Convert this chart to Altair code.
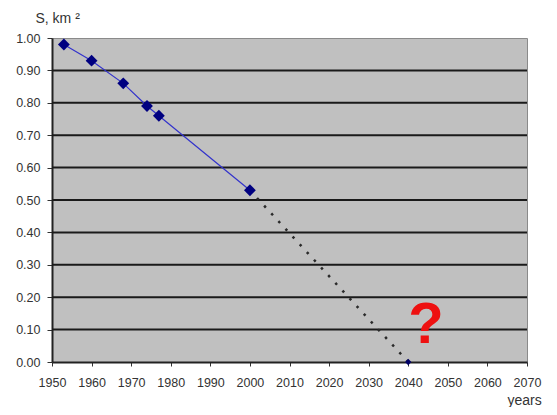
import altair as alt
import pandas as pd

years_obs = [1953, 1960, 1968, 1974, 1977, 2000]
area_obs = [0.98, 0.93, 0.86, 0.79, 0.76, 0.53]
years_fc = [2000, 2040]
area_fc = [0.53, 0.00]
grid_values = [0.1, 0.2, 0.3, 0.4, 0.5, 0.6, 0.7, 0.8, 0.9]
x_ticks = [1950, 1960, 1970, 1980, 1990, 2000, 2010, 2020, 2030, 2040, 2050, 2060, 2070]
y_ticks = [0.0, 0.1, 0.2, 0.3, 0.4, 0.5, 0.6, 0.7, 0.8, 0.9, 1.0]

obs = pd.DataFrame({"year": years_obs, "area": area_obs})
fc = pd.DataFrame({"year": years_fc, "area": area_fc})
grid = pd.DataFrame({"area": grid_values})
qmark = pd.DataFrame({"year": [2044.5], "area": [0.06], "t": ["?"]})

xs = alt.Scale(domain=[1950, 2070], nice=False, zero=False)
ys = alt.Scale(domain=[0, 1], nice=False)

x_axis = alt.Axis(values=x_ticks, format="d", title="years", titleAngle=0,
                  titleAlign="left", titleX=455, titleY=42, titleBaseline="alphabetic",
                  titleFont="Liberation Sans", titleFontSize=14, titleFontWeight="normal",
                  titleColor="#333", labelFont="Liberation Sans", labelFontSize=12.5,
                  labelColor="#333", tickSize=4, tickColor="#333", labelPadding=10,
                  labelOverlap=False, labelFlush=False,
                  domainColor="#222", domainWidth=2, grid=False)
y_axis = alt.Axis(values=y_ticks, format=".2f", title="S, km ²", titleAngle=0,
                  titleAlign="left", titleX=-17, titleY=-16, titleBaseline="alphabetic",
                  titleFont="Liberation Sans", titleFontSize=14, titleFontWeight="normal",
                  titleColor="#333", labelFont="Liberation Sans", labelFontSize=12.5,
                  labelColor="#333", tickSize=5, tickColor="#333", labelPadding=7,
                  labelOverlap=False, labelFlush=False,
                  domainColor="#222", domainWidth=2, grid=False)

X = alt.X("year:Q", scale=xs, axis=x_axis)
Y = alt.Y("area:Q", scale=ys, axis=y_axis)

base_axes = alt.Chart(obs).mark_point(opacity=0).encode(x=X, y=Y)

grid_rules = alt.Chart(grid).mark_rule(color="#1a1a1a", strokeWidth=2).encode(y=Y)

fc_line = alt.Chart(fc).mark_line(color="#2a2a2a", strokeWidth=2.5, strokeDash=[2.5, 8]).encode(x=X, y=Y)
fc_end = alt.Chart(fc[fc.area == 0]).mark_point(shape="diamond", filled=True, color="#000066",
                                                size=40, opacity=1).encode(x=X, y=Y)

obs_line = alt.Chart(obs).mark_line(color="#3333cc", strokeWidth=1.2).encode(x=X, y=Y)
obs_pts = alt.Chart(obs).mark_point(shape="diamond", filled=True, color="#000080",
                                    size=140, opacity=1).encode(x=X, y=Y)

q = alt.Chart(qmark).mark_text(text="?", color="#ee1111", fontSize=58, fontWeight="bold",
                               font="Liberation Sans", baseline="alphabetic",
                               align="center").encode(x=X, y=Y)

chart = alt.layer(base_axes, grid_rules, fc_line, fc_end, obs_line, obs_pts, q).properties(
    width=475, height=324,
    autosize=alt.AutoSizeParams(type="none"),
    padding={"left": 44, "top": 30, "right": 22, "bottom": 45},
    background="white",
).configure_view(fill="#c0c0c0", stroke="#8a8a8a", strokeWidth=1
).configure_axis(labelOverlap=False, labelFlush=False)

chart.save("out.html", embed_options={"renderer": "svg", "actions": False})
